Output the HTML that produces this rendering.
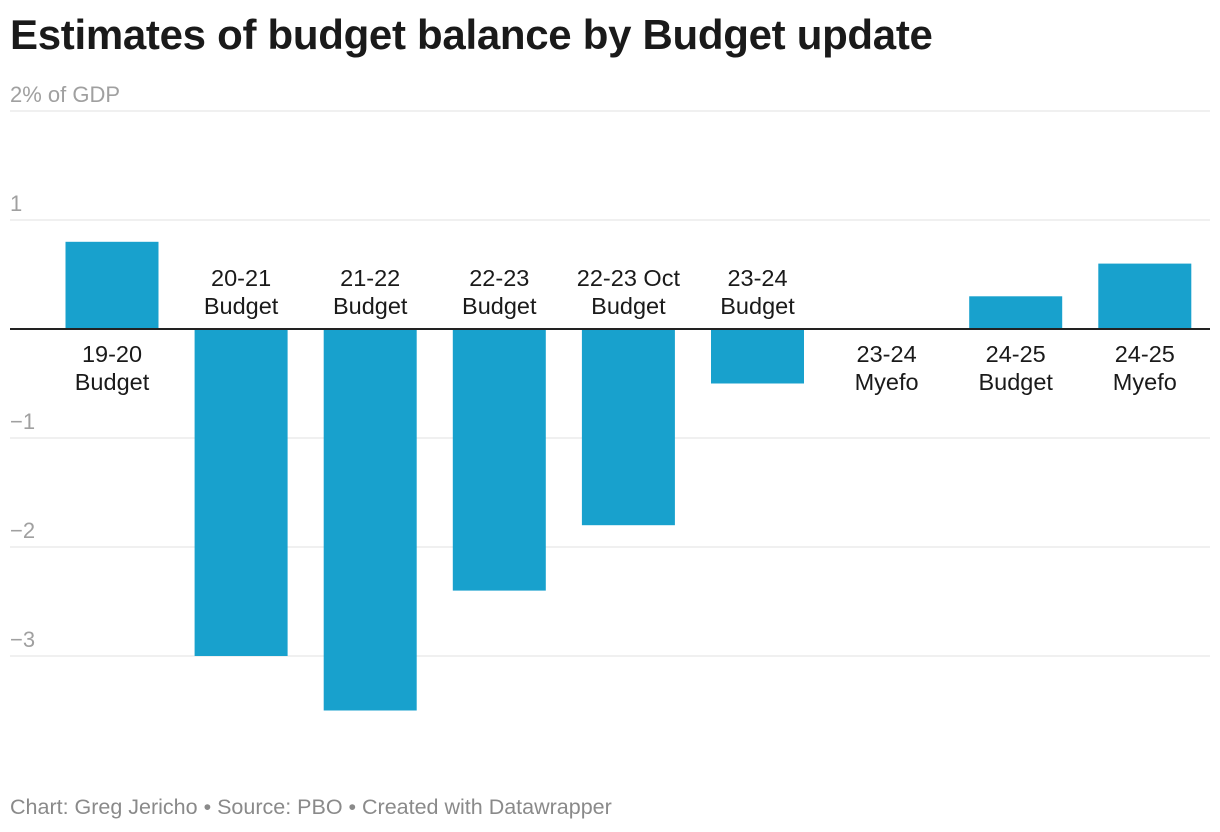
<!DOCTYPE html>
<html><head><meta charset="utf-8"><style>
body{margin:0;background:#fff;font-family:"Liberation Sans",Arial,sans-serif;}
#wrap{position:relative;width:1220px;height:832px;overflow:hidden;}
h1{position:absolute;left:10px;top:11px;margin:0;font-size:42px;font-weight:bold;color:#1a1a1a;letter-spacing:-0.3px;}
#foot{position:absolute;left:10px;top:795px;font-size:21.5px;color:#8a8a8a;}
</style></head><body>
<div id="wrap">
<h1>Estimates of budget balance by Budget update</h1>
<svg id="chart" width="1220" height="832" style="position:absolute;left:0;top:0"></svg>
<div id="foot">Chart: Greg Jericho • Source: PBO • Created with Datawrapper</div>
</div>
<script>
const categories=[["19-20","Budget"],["20-21","Budget"],["21-22","Budget"],["22-23","Budget"],["22-23 Oct","Budget"],["23-24","Budget"],["23-24","Myefo"],["24-25","Budget"],["24-25","Myefo"]];
const values=[0.8,-3.0,-3.5,-2.4,-1.8,-0.5,0,0.3,0.6];
const ticks=[2,1,0,-1,-2,-3];
const tickLabels=["2% of GDP","1","","\u22121","\u22122","\u22123"];

const svg=document.getElementById('chart');
const NS='http://www.w3.org/2000/svg';
const y=v=>329-v*109;
const barW=93;
function mk(t,a){const e=document.createElementNS(NS,t);for(const k in a)e.setAttribute(k,a[k]);svg.appendChild(e);return e;}

ticks.forEach((t,i)=>{
  if(t!==0){
    const l=mk('line',{x1:10,x2:1210,y1:y(t),y2:y(t),stroke:'#e0e0e0','stroke-width':1});
    
    
  }
  if(tickLabels[i]){
    const tx=mk('text',{x:10,y:y(t)-9,fill:'#a0a0a0','font-size':22,'font-family':'Liberation Sans, sans-serif'});
    tx.textContent=tickLabels[i];
    
    
  }
});

values.forEach((v,i)=>{
  const cx=112+129.1*i;
  const top=Math.min(y(v),y(0)), h=Math.abs(y(v)-y(0));
  const r=mk('rect',{x:cx-barW/2,y:top,width:barW,height:h,fill:'#18a1cd'});
  
  
  const neg=v<0;
  categories[i].forEach((s,j)=>{
    const ty=neg?286+j*28:362+j*28;
    const tx=mk('text',{x:cx,y:ty,'text-anchor':'middle',fill:'#1a1a1a','font-size':23.5,'font-family':'Liberation Sans, sans-serif'});
    tx.textContent=s;
    
    
  });
});

const z=mk('line',{x1:10,x2:1210,y1:y(0),y2:y(0),stroke:'#222','stroke-width':2});


</script>
</body></html>
